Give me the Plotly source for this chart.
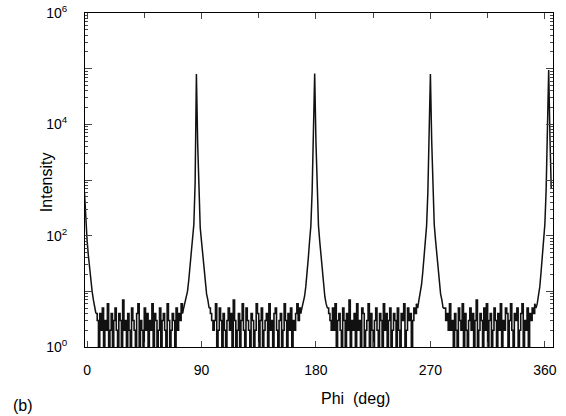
import plotly.graph_objects as go

# phi scan, 1 deg steps, segments start at these angles
seg_starts = [-2, 8, 76, 97, 169, 190, 260, 281, 353]

tail_0 = [600, 150, 85, 45, 26, 15, 10, 7, 5, 4]
noise_1 = [3, 1, 4, 2, 5, 1, 3, 2, 6, 1,
           2, 4, 1, 3, 5, 2, 1, 4, 3, 1,
           7, 2, 3, 1, 4, 2, 1, 5, 3, 2,
           1, 4, 6, 1, 3, 2, 1, 5, 2, 4,
           1, 3, 2, 6, 1, 4, 3, 1, 2, 5,
           1, 3, 4, 2, 1, 6, 3, 1, 2, 4,
           3, 1, 5, 2, 4, 3, 6, 4]
peak_90 = [5, 6, 7, 10, 16, 30, 52, 90, 160, 900, 80000,
           4500, 650, 140, 80, 46, 26, 14, 9, 7, 5]
noise_2 = [4, 3, 2, 3, 6, 1, 2, 5, 3, 1,
           4, 2, 1, 3, 5, 2, 4, 1, 7, 3,
           1, 2, 4, 1, 3, 6, 2, 1, 5, 3,
           2, 1, 4, 3, 1, 2, 6, 4, 1, 3,
           5, 1, 2, 3, 4, 1, 6, 2, 3, 1,
           4, 5, 2, 1, 3, 4, 1, 2, 6, 3,
           1, 4, 2, 5, 1, 3, 2, 4, 6, 3, 5, 4]
peak_180 = [5, 6, 8, 12, 20, 40, 80, 150, 620, 5000, 82000,
            4800, 600, 150, 78, 44, 24, 13, 8, 6, 5]
noise_3 = [4, 3, 2, 5, 2, 6, 1, 3, 4, 2,
           1, 5, 3, 1, 4, 2, 7, 1, 3, 2,
           4, 1, 6, 2, 3, 1, 5, 4, 1, 2,
           3, 6, 1, 4, 2, 1, 3, 5, 2, 1,
           4, 3, 1, 6, 2, 4, 1, 3, 5, 1,
           2, 4, 3, 1, 5, 2, 1, 4, 3, 6,
           1, 2, 5, 3, 4, 1, 3, 5, 4, 6]
peak_270 = [5, 7, 9, 13, 22, 45, 82, 150, 600, 5000, 80000,
            5200, 620, 160, 85, 46, 24, 13, 9, 7, 5]
noise_4 = [5, 3, 4, 2, 6, 2, 3, 1, 4, 2,
           1, 5, 3, 2, 6, 1, 4, 2, 1, 3,
           5, 2, 4, 1, 3, 7, 1, 2, 4, 3,
           1, 5, 2, 6, 1, 3, 4, 1, 2, 5,
           3, 1, 4, 2, 6, 1, 3, 2, 5, 4,
           1, 3, 6, 2, 1, 4, 3, 5, 1, 2,
           4, 6, 1, 3, 2, 5, 1, 4, 3, 5, 4, 6]
peak_360 = [5, 6, 8, 12, 22, 48, 85, 160, 650, 5500, 95000, 6000, 700]

segments = [tail_0, noise_1, peak_90, noise_2, peak_180,
            noise_3, peak_270, noise_4, peak_360]
is_noise = [False, True, False, True, False, True, False, True, False]

x_ticks = [0, 90, 180, 270, 360]
y_ticks = [1, 10, 100, 1000, 10000, 100000, 1000000]
y_labels = ["10<sup>0</sup>", "", "10<sup>2</sup>", "", "10<sup>4</sup>", "", "10<sup>6</sup>"]

font = "Liberation Sans, Arial, sans-serif"

fig = go.Figure()
prev = None
for start, seg, noisy in zip(seg_starts, segments, is_noise):
    xs = [start + i for i in range(len(seg))]
    ys = list(seg)
    if prev is not None:
        # join to the last point of the previous segment
        xs = [prev[0]] + xs
        ys = [prev[1]] + ys
    prev = (xs[-1], ys[-1])
    fig.add_trace(go.Scatter(x=xs, y=ys, mode="lines",
                             line_shape="hv" if noisy else "linear",
                             line=dict(color="#111111", width=1.6 if noisy else 1.5)))

fig.update_xaxes(range=[-1.6, 366.4], tickvals=x_ticks, ticks="inside", ticklen=6,
                 showline=True, linecolor="black", linewidth=1, mirror="allticks",
                 showgrid=False, zeroline=False, ticklabelstandoff=10, automargin=False,
                 ticklabeloverflow="allow",
                 minor=dict(dtick=45, ticks="inside", ticklen=5, showgrid=False),
                 tickfont=dict(family=font, size=14, color="black"))
fig.update_yaxes(type="log", range=[0, 6], tickvals=y_ticks, ticktext=y_labels,
                 ticks="inside", ticklen=7, showline=True, linecolor="black",
                 linewidth=1, mirror="allticks", showgrid=False, zeroline=False,
                 ticklabelstandoff=14, automargin=False, ticklabeloverflow="allow",
                 minor=dict(dtick="D1", ticks="inside", ticklen=3, showgrid=False),
                 tickfont=dict(family=font, size=14, color="black"))

fig.add_annotation(text="Intensity", x=-0.083, y=0.494, xref="paper", yref="paper",
                   xanchor="center", yanchor="middle", textangle=-90, showarrow=False,
                   font=dict(family=font, size=16, color="black"))
fig.add_annotation(text="Phi  (deg)", x=0.577, y=-0.155, xref="paper", yref="paper",
                   xanchor="center", yanchor="middle", showarrow=False,
                   font=dict(family=font, size=16, color="black"))
fig.add_annotation(text="(b)", x=-0.1325, y=-0.174, xref="paper", yref="paper",
                   xanchor="center", yanchor="middle", showarrow=False,
                   font=dict(family=font, size=16, color="black"))

fig.update_layout(width=566, height=416, showlegend=False,
                  margin=dict(l=85, r=13, t=13, b=69),
                  paper_bgcolor="white", plot_bgcolor="white")

# drop the default page margin so the figure sits at the window corner
fig.write_html("out.html", config={"displayModeBar": False},
               post_script="document.body.style.margin='0';")
